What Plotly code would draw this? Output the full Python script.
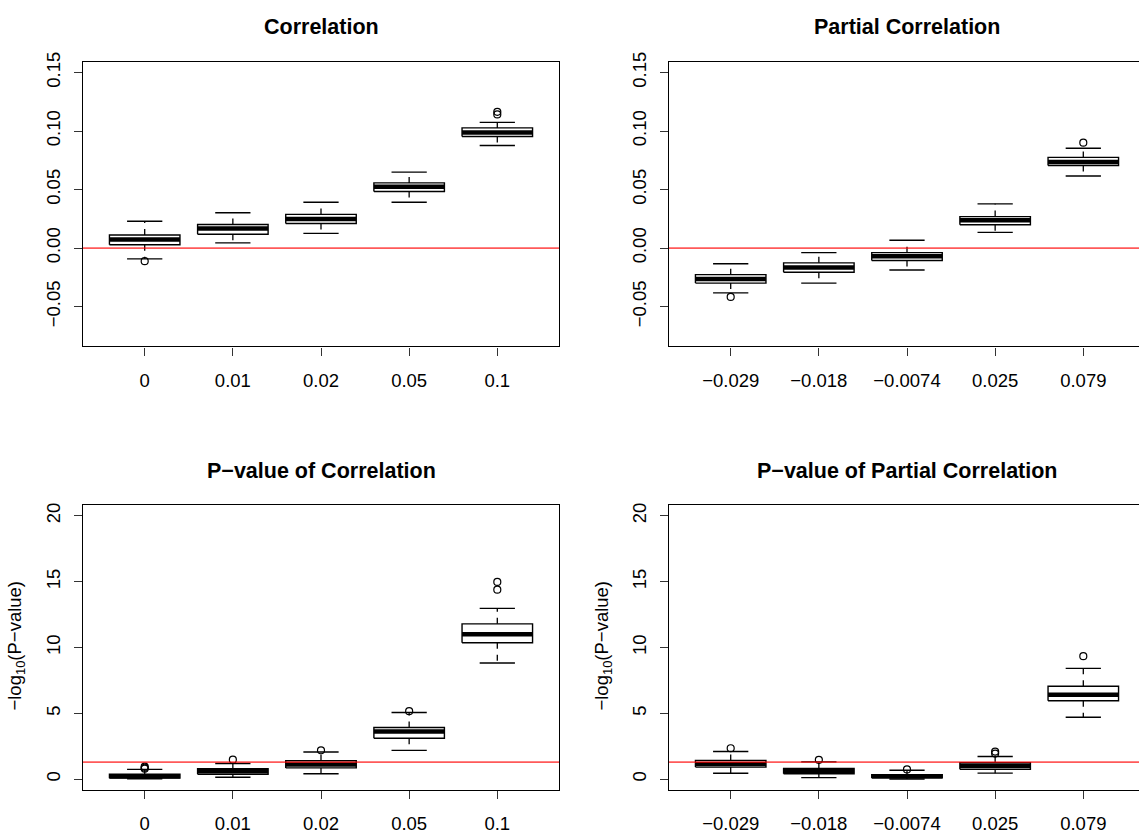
import plotly.graph_objects as go

# ---------------- data ----------------
corr_labels = ["0", "0.01", "0.02", "0.05", "0.1"]
pcorr_labels = ["\u22120.029", "\u22120.018", "\u22120.0074", "0.025", "0.079"]

# Correlation
c_low = [-0.0092, 0.0045, 0.0126, 0.0392, 0.0876]
c_q1 = [0.0028, 0.0118, 0.0210, 0.0484, 0.0954]
c_med = [0.0073, 0.0168, 0.0249, 0.0523, 0.0988]
c_q3 = [0.0112, 0.0201, 0.0288, 0.0557, 0.1027]
c_up = [0.0229, 0.0302, 0.0392, 0.0649, 0.1074]
c_out = [[-0.0112], [], [], [], [0.1142, 0.1164]]

# Partial correlation
pc_low = [-0.0383, -0.0299, -0.0187, 0.0134, 0.0616]
pc_q1 = [-0.0299, -0.0207, -0.0106, 0.0199, 0.0705]
pc_med = [-0.0263, -0.0165, -0.0070, 0.0238, 0.0736]
pc_q3 = [-0.0227, -0.0126, -0.0039, 0.0269, 0.0775]
pc_up = [-0.0134, -0.0039, 0.0067, 0.0378, 0.0853]
pc_out = [[-0.0417], [], [], [], [0.0901]]

# -log10 P-value of correlation
pv_low = [0.03, 0.15, 0.42, 2.19, 8.82]
pv_q1 = [0.08, 0.38, 0.86, 3.11, 10.36]
pv_med = [0.22, 0.60, 1.12, 3.63, 11.01]
pv_q3 = [0.38, 0.80, 1.40, 3.93, 11.80]
pv_up = [0.75, 1.19, 2.07, 5.07, 12.97]
pv_out = [[0.80, 0.87, 0.95], [1.48], [2.19], [5.17], [14.39, 14.98]]

# -log10 P-value of partial correlation
ppv_low = [0.45, 0.12, 0.02, 0.46, 4.70]
ppv_q1 = [0.92, 0.41, 0.10, 0.76, 5.96]
ppv_med = [1.15, 0.62, 0.22, 1.02, 6.41]
ppv_q3 = [1.43, 0.82, 0.35, 1.25, 7.06]
ppv_up = [2.10, 1.32, 0.68, 1.73, 8.42]
ppv_out = [[2.35], [1.47], [0.74], [1.95, 2.10], [9.34]]

corr_ref = 0.0
pval_ref = 1.30103  # -log10(0.05)

corr_ticks = [-0.05, 0.0, 0.05, 0.10, 0.15]
corr_ticktext = ["\u22120.05", "0.00", "0.05", "0.10", "0.15"]
pval_ticks = [0, 5, 10, 15, 20]
pval_ticktext = ["0", "5", "10", "15", "20"]

titles = ["Correlation", "Partial Correlation",
          "P\u2212value of Correlation", "P\u2212value of Partial Correlation"]

# ---------------- figure ----------------
W, H = 1139, 834
FONT = "Liberation Sans, Arial, Helvetica, sans-serif"
HALF = 0.4      # half box width
STAP = 0.2      # half staple width

fig = go.Figure()

panels = [
    (c_low, c_q1, c_med, c_q3, c_up, c_out, "x", "y"),
    (pc_low, pc_q1, pc_med, pc_q3, pc_up, pc_out, "x2", "y2"),
    (pv_low, pv_q1, pv_med, pv_q3, pv_up, pv_out, "x3", "y3"),
    (ppv_low, ppv_q1, ppv_med, ppv_q3, ppv_up, ppv_out, "x4", "y4"),
]

for low, q1, med, q3, up, outs, xa, ya in panels:
    pos = list(range(1, len(med) + 1))
    # boxes
    bx, by = [], []
    for p, a, b in zip(pos, q1, q3):
        bx += [p - HALF, p + HALF, p + HALF, p - HALF, p - HALF, None]
        by += [a, a, b, b, a, None]
    fig.add_trace(go.Scatter(x=bx, y=by, mode="lines", fill="toself",
                             fillcolor="white", line=dict(color="black", width=1.4),
                             xaxis=xa, yaxis=ya, hoverinfo="skip", showlegend=False))
    # medians
    mx, my = [], []
    for p, m in zip(pos, med):
        mx += [p - HALF, p + HALF, None]
        my += [m, m, None]
    fig.add_trace(go.Scatter(x=mx, y=my, mode="lines",
                             line=dict(color="black", width=4.5),
                             xaxis=xa, yaxis=ya, hoverinfo="skip", showlegend=False))
    # whiskers (dashed)
    wx, wy = [], []
    for p, lo, a, b, hi in zip(pos, low, q1, q3, up):
        wx += [p, p, None, p, p, None]
        wy += [b, hi, None, a, lo, None]
    fig.add_trace(go.Scatter(x=wx, y=wy, mode="lines",
                             line=dict(color="black", width=1.3, dash="6px,6px"),
                             xaxis=xa, yaxis=ya, hoverinfo="skip", showlegend=False))
    # staples
    sx, sy = [], []
    for p, lo, hi in zip(pos, low, up):
        sx += [p - STAP, p + STAP, None, p - STAP, p + STAP, None]
        sy += [hi, hi, None, lo, lo, None]
    fig.add_trace(go.Scatter(x=sx, y=sy, mode="lines",
                             line=dict(color="black", width=1.4),
                             xaxis=xa, yaxis=ya, hoverinfo="skip", showlegend=False))
    # outliers
    ox, oy = [], []
    for p, o in zip(pos, outs):
        ox += [p] * len(o)
        oy += o
    fig.add_trace(go.Scatter(x=ox, y=oy, mode="markers",
                             marker=dict(symbol="circle-open", size=7, color="black",
                                         line=dict(width=1.2)),
                             xaxis=xa, yaxis=ya, hoverinfo="skip", showlegend=False))

# red reference lines (drawn above boxes)
for xa, ya, val in [("x", "y", corr_ref), ("x2", "y2", corr_ref),
                    ("x3", "y3", pval_ref), ("x4", "y4", pval_ref)]:
    fig.add_shape(type="line", xref=f"{xa} domain", yref=ya, x0=0, x1=1,
                  y0=val, y1=val, line=dict(color="rgba(255,0,0,0.65)", width=1.8),
                  layer="above")

# domains in pixels
Lx = (83, 559)
Rx = (669, 1139)
Ty = (53, 343)
By = (505, 795)
PPU = (559 - 83) / 5.4  # pixels per x unit

def xd(a):
    return [a[0] / W, a[1] / W]

def yd(a):
    return [1 - a[1] / H, 1 - a[0] / H]

tickfont = dict(family=FONT, size=18.5, color="black")

def xaxis(dom, labels, right):
    rng_hi = 0.3 + (dom[1] - dom[0]) / PPU
    return dict(domain=xd(dom), range=[0.3, rng_hi], tickmode="array",
                tickvals=list(range(1, len(labels) + 1)), ticktext=labels,
                ticks="outside", ticklen=8, tickwidth=1.2, tickcolor="#333",
                showline=True, linecolor="black", linewidth=1.3, mirror=True,
                showgrid=False, zeroline=False, tickfont=tickfont,
                ticklabelstandoff=9, fixedrange=True)

def yaxis(dom, ticks, ttext, rng, right):
    return dict(domain=yd(dom), range=rng, tickmode="array", tickvals=ticks,
                ticktext=ttext, ticks="outside", ticklen=8, tickwidth=1.2,
                tickcolor="#333", showline=True, linecolor="black", linewidth=1.3,
                mirror=(not right), showgrid=False, zeroline=False,
                tickfont=tickfont, tickangle=-90, ticklabelstandoff=6,
                fixedrange=True)

corr_rng = [-0.084, 0.159]
pval_rng = [-0.8, 20.8]

fig.update_layout(
    width=W, height=H, autosize=False,
    margin=dict(l=0, r=0, t=0, b=0),
    paper_bgcolor="white", plot_bgcolor="white",
    font=dict(family=FONT, color="black"),
    showlegend=False,
    xaxis=dict(**xaxis(Lx, corr_labels, False), anchor="y"),
    yaxis=dict(**yaxis(Ty, corr_ticks, corr_ticktext, corr_rng, False), anchor="x"),
    xaxis2=dict(**xaxis(Rx, pcorr_labels, True), anchor="y2"),
    yaxis2=dict(**yaxis(Ty, corr_ticks, corr_ticktext, corr_rng, True), anchor="x2"),
    xaxis3=dict(**xaxis(Lx, corr_labels, False), anchor="y3"),
    yaxis3=dict(**yaxis(By, pval_ticks, pval_ticktext, pval_rng, False), anchor="x3"),
    xaxis4=dict(**xaxis(Rx, pcorr_labels, True), anchor="y4"),
    yaxis4=dict(**yaxis(By, pval_ticks, pval_ticktext, pval_rng, True), anchor="x4"),
)

# panel titles
title_centers = [((83 + 559) / 2, 17.5), ((669 + 1145) / 2, 17.5),
                 ((83 + 559) / 2, 470.5), ((669 + 1145) / 2, 470.5)]
for t, (cx, cy) in zip(titles, title_centers):
    fig.add_annotation(text=f"<b>{t}</b>", x=cx / W, y=1 - cy / H, xref="paper",
                       yref="paper", showarrow=False, xanchor="center",
                       yanchor="middle", font=dict(family=FONT, size=21.5, color="black"))

# y-axis titles for p-value panels
for cx in (16, 603):
    fig.add_annotation(text="\u2212log<sub>10</sub>(P\u2212value)", x=cx / W,
                       y=1 - 648 / H, xref="paper", yref="paper", showarrow=False,
                       textangle=-90, xanchor="center", yanchor="middle",
                       font=dict(family=FONT, size=18.5, color="black"))

fig.write_html(
    "out.html",
    config={"displayModeBar": False, "responsive": False},
    post_script="document.body.style.margin='0';document.body.style.overflow='hidden';"
                "document.documentElement.style.overflow='hidden';",
)
